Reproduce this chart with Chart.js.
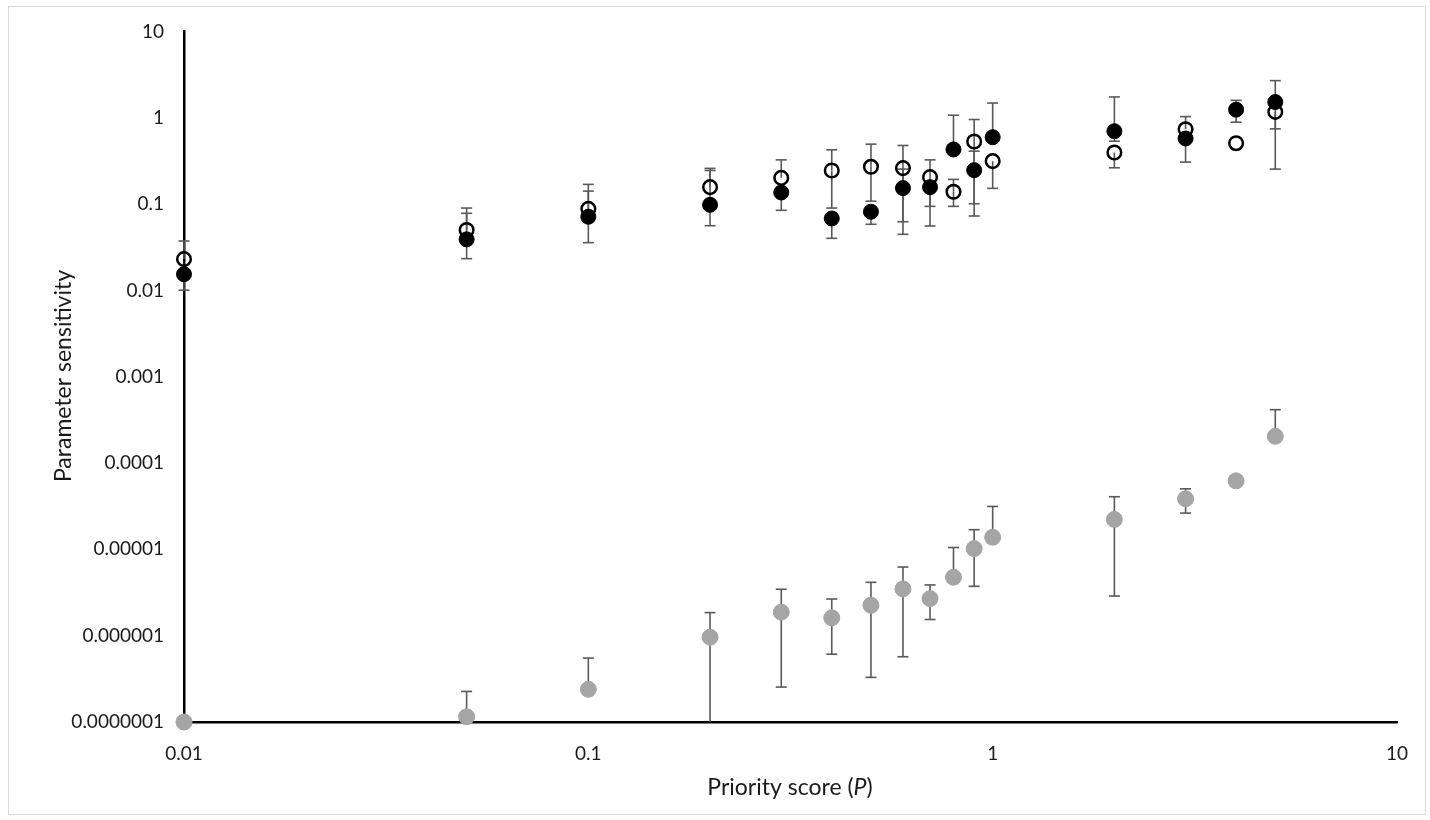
<!DOCTYPE html>
<html>
<head>
<meta charset="utf-8">
<script src="https://cdn.jsdelivr.net/npm/chart.js@4"></script>
<style>
  html, body { margin: 0; padding: 0; background: #fff; }
  #wrap { position: absolute; left: 0; top: 0; width: 1430px; height: 820px; }
</style>
</head>
<body>
<div id="wrap"><canvas id="c" width="1430" height="820"></canvas></div>
<script>
// ---- data ----
const priority = [0.01, 0.05, 0.1, 0.2, 0.3, 0.4, 0.5, 0.6, 0.7, 0.8, 0.9, 1, 2, 3, 4, 5];

const filledY  = [0.0154, 0.039, 0.0713, 0.098, 0.136, 0.068, 0.0815, 0.153, 0.157, 0.429, 0.247, 0.595, 0.698, 0.575, 1.24, 1.52];
const filledHi = [null, 0.0781, 0.1413, 0.245, null, null, null, 0.254, null, 1.069, 0.41, 1.48, 1.74, null, 1.59, 2.69];
const filledLo = [0.01005, 0.0233, 0.0357, 0.0561, 0.0846, 0.0401, 0.0583, 0.0624, 0.0557, null, 0.0727, null, 0.535, 0.306, 0.887, 0.743];

const openY  = [0.023, 0.050, 0.088, 0.157, 0.201, 0.245, 0.270, 0.261, 0.205, 0.139, 0.531, 0.314, 0.396, 0.736, 0.507, 1.17];
const openHi = [0.0373, 0.0899, 0.169, 0.259, 0.325, 0.425, 0.494, 0.477, 0.325, 0.193, 0.953, null, null, 1.03, null, null];
const openLo = [null, null, null, null, null, 0.0899, 0.108, 0.0446, 0.094, 0.094, 0.1008, 0.152, 0.263, null, null, 0.254];

const grayY  = [1.0e-7, 1.15e-7, 2.39e-7, 9.6e-7, 1.87e-6, 1.61e-6, 2.25e-6, 3.48e-6, 2.69e-6, 4.75e-6, 1.02e-5, 1.38e-5, 2.22e-5, 3.85e-5, 6.22e-5, 2.04e-4];
const grayHi = [null, 2.26e-7, 5.5e-7, 1.85e-6, 3.45e-6, 2.66e-6, 4.15e-6, 6.24e-6, 3.87e-6, 1.05e-5, 1.69e-5, 3.14e-5, 4.07e-5, 5.03e-5, null, 4.15e-4];
const grayLo = [null, null, null, 5e-8, 2.54e-7, 6.1e-7, 3.29e-7, 5.7e-7, 1.54e-6, null, 3.73e-6, null, 2.88e-6, 2.63e-5, null, null];

const xTickValues = [0.01, 0.1, 1, 10];
const xTickLabels = ['0.01', '0.1', '1', '10'];
const yTickValues = [1e-7, 1e-6, 1e-5, 1e-4, 1e-3, 1e-2, 1e-1, 1, 10];
const yTickLabels = ['0.0000001', '0.000001', '0.00001', '0.0001', '0.001', '0.01', '0.1', '1', '10'];

const xTitleParts = [['Priority score (', false], ['P', true], [')', false]];
const yTitle = 'Parameter sensitivity';

// ---- build chart ----
function pts(ys) { return priority.map((x, i) => ({ x: x, y: ys[i] })); }

const errorSets = [
  { hi: filledHi, lo: filledLo, ys: filledY },
  { hi: openHi, lo: openLo, ys: openY },
  { hi: grayHi, lo: grayLo, ys: grayY }
];

const FONT = 'Lato, "Open Sans", sans-serif';

const framePlugin = {
  id: 'frame',
  beforeDraw(chart) {
    const ctx = chart.ctx;
    ctx.save();
    ctx.strokeStyle = '#d9d9d9';
    ctx.lineWidth = 1;
    ctx.strokeRect(8.5, 6.5, 1417, 808);
    ctx.restore();
  }
};

const errorBarPlugin = {
  id: 'errbars',
  beforeDatasetsDraw(chart) {
    const ctx = chart.ctx;
    const xs = chart.scales.x, ys = chart.scales.y;
    const area = chart.chartArea;
    ctx.save();
    ctx.beginPath();
    ctx.rect(area.left - 10, area.top - 40, area.right - area.left + 30, area.bottom - area.top + 40);
    ctx.clip();
    ctx.strokeStyle = '#595959';
    ctx.lineWidth = 1.6;
    const cap = 5.5;
    errorSets.forEach(set => {
      priority.forEach((xv, i) => {
        const px = xs.getPixelForValue(xv);
        const py = ys.getPixelForValue(set.ys[i]);
        [set.hi[i], set.lo[i]].forEach(ev => {
          if (ev === null || ev === undefined) return;
          const ey = ys.getPixelForValue(ev);
          ctx.beginPath();
          ctx.moveTo(px, py);
          ctx.lineTo(px, Math.min(ey, area.bottom));
          ctx.stroke();
          if (ey < area.bottom - 1) {
            ctx.beginPath();
            ctx.moveTo(px - cap, ey);
            ctx.lineTo(px + cap, ey);
            ctx.stroke();
          }
        });
      });
    });
    ctx.restore();
  }
};

const titlePlugin = {
  id: 'axisTitles',
  afterDraw(chart) {
    const ctx = chart.ctx;
    ctx.save();
    ctx.fillStyle = '#1a1a1a';
    ctx.textBaseline = 'middle';
    // x title with italic P
    const size = 23;
    let total = 0;
    const widths = xTitleParts.map(([t, it]) => {
      ctx.font = (it ? 'italic ' : '') + size + 'px ' + FONT;
      const w = ctx.measureText(t).width;
      total += w;
      return w;
    });
    let x = 790 - total / 2;
    ctx.textAlign = 'left';
    xTitleParts.forEach(([t, it], i) => {
      ctx.font = (it ? 'italic ' : '') + size + 'px ' + FONT;
      ctx.fillText(t, x, 788);
      x += widths[i];
    });
    // y title
    ctx.translate(64, 376);
    ctx.rotate(-Math.PI / 2);
    ctx.textAlign = 'center';
    ctx.font = size + 'px ' + FONT;
    ctx.fillText(yTitle, 0, 0);
    ctx.restore();
  }
};

function fixedTicks(values) {
  return function (scale) {
    scale.ticks = values.map(v => ({ value: v }));
  };
}

new Chart(document.getElementById('c'), {
  type: 'scatter',
  data: {
    datasets: [
      {
        label: 'filled',
        data: pts(filledY),
        clip: false,
        pointRadius: 7.5,
        pointHoverRadius: 7.5,
        pointStyle: 'circle',
        backgroundColor: '#000000',
        borderColor: '#000000',
        borderWidth: 1
      },
      {
        label: 'open',
        data: pts(openY),
        clip: false,
        pointRadius: 6.8,
        pointHoverRadius: 6.8,
        pointStyle: 'circle',
        backgroundColor: 'rgba(0,0,0,0)',
        borderColor: '#000000',
        borderWidth: 2.5
      },
      {
        label: 'gray',
        data: pts(grayY),
        clip: false,
        pointRadius: 8,
        pointHoverRadius: 8,
        pointStyle: 'circle',
        backgroundColor: '#a5a5a5',
        borderColor: '#a5a5a5',
        borderWidth: 1
      }
    ]
  },
  options: {
    responsive: false,
    animation: false,
    events: [],
    layout: { padding: { left: 0, top: 30, right: 33, bottom: 0 } },
    plugins: {
      legend: { display: false },
      tooltip: { enabled: false }
    },
    scales: {
      x: {
        type: 'logarithmic',
        min: 0.01,
        max: 10,
        afterBuildTicks: fixedTicks(xTickValues),
        afterFit(scale) { scale.height = 98; },
        grid: { display: false, drawTicks: false },
        border: { display: true, color: '#000000', width: 2.5 },
        ticks: {
          autoSkip: false,
          maxRotation: 0,
          padding: 20,
          color: '#1a1a1a',
          font: { family: FONT, size: 19 },
          callback: (v, i) => xTickLabels[xTickValues.indexOf(v)] ?? xTickLabels[i]
        }
      },
      y: {
        type: 'logarithmic',
        min: 1e-7,
        max: 10,
        afterBuildTicks: fixedTicks(yTickValues),
        afterFit(scale) { scale.width = 184; },
        grid: { display: false, drawTicks: false },
        border: { display: true, color: '#000000', width: 2.5 },
        ticks: {
          autoSkip: false,
          padding: 20,
          color: '#1a1a1a',
          font: { family: FONT, size: 19 },
          callback: (v, i) => {
            const k = yTickValues.findIndex(t => Math.abs(Math.log10(t) - Math.log10(v)) < 1e-6);
            return k >= 0 ? yTickLabels[k] : yTickLabels[i];
          }
        }
      }
    }
  },
  plugins: [framePlugin, errorBarPlugin, titlePlugin]
});
</script>
</body>
</html>
